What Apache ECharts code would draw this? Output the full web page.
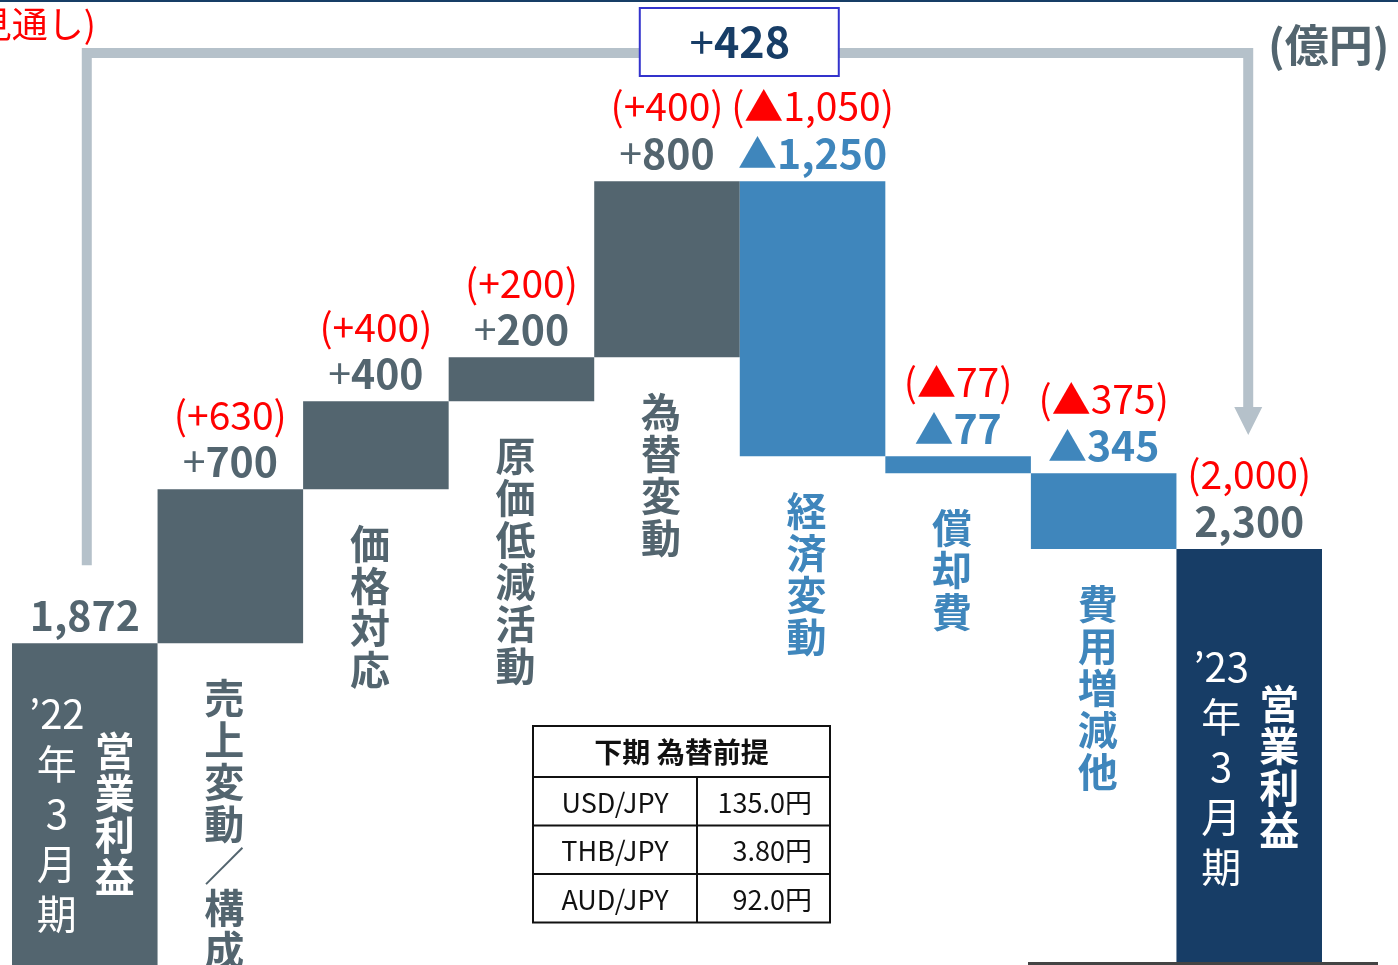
<!DOCTYPE html>
<html>
<head>
<meta charset="utf-8">
<script src="https://cdn.jsdelivr.net/npm/echarts@6/dist/echarts.min.js"></script>
<style>
  html, body { margin: 0; padding: 0; background: #fff; }
  #chart { width: 1398px; height: 965px; }
</style>
</head>
<body>
<div id="chart"></div>
<script>
// 営業利益 増減要因（億円）
var categories = ['’22年3月期', '売上変動／構成差', '価格対応', '原価低減活動', '為替変動', '経済変動', '償却費', '費用増減他', '’23年3月期']
var kinds = ['start', 'up', 'up', 'up', 'up', 'down', 'down', 'down', 'end']
var values = [1872, 700, 400, 200, 800, -1250, -77, -345, 2300]
// 前回見通し（赤字カッコ内）
var forecast = [null, 630, 400, 200, 400, -1050, -77, -375, 2000]
var totalTitle = '営業利益'
var fxHeader = '下期 為替前提'
var fxPairs = ['USD/JPY', 'THB/JPY', 'AUD/JPY']
var fxRates = ['135.0円', '3.80円', '92.0円']

var FONT = '"Noto Sans CJK JP", "Noto Sans", sans-serif'
var GRAY = '#53656f'
var BLUE = '#3f86bc'
var NAVY = '#173d66'
var RED = '#ff0000'
var LINK = '#b5c1ca'
var colorOf = { start: GRAY, up: GRAY, down: BLUE, end: NAVY }

function fmt(n) {
  return Math.abs(n).toLocaleString('en-US')
}

// waterfall: transparent base + visible part
var baseData = []
var barData = []
var running = 0
for (var i = 0; i < values.length; i++) {
  var k = kinds[i]
  var base, h
  if (k === 'start' || k === 'end') {
    base = 0
    h = values[i]
    running = values[i]
  } else if (values[i] >= 0) {
    base = running
    h = values[i]
    running += values[i]
  } else {
    running += values[i]
    base = running
    h = -values[i]
  }
  var col = colorOf[k]
  baseData.push({
    value: base,
    label: {
      show: k === 'up' || k === 'down',
      color: col,
      formatter: categories[i].split('').join('\n')
    }
  })
  // value label
  var txt = ''
  if (forecast[i] !== null) {
    var f = forecast[i]
    var fs = (k === 'end') ? fmt(f) : (f >= 0 ? '+' : '▲') + fmt(f)
    txt += '{r|(' + fs + ')}\n'
  }
  var pre = k === 'up' ? '+' : (k === 'down' ? '▲' : '')
  var tone = k === 'down' ? 'b' : 'g'
  if (pre) txt += '{' + tone + 't|' + pre + '}'
  txt += '{' + tone + '|' + fmt(values[i]) + '}'
  barData.push({
    value: h,
    itemStyle: { color: col },
    label: { formatter: txt }
  })
}

var myChart = echarts.init(document.getElementById('chart'))
var option = {
  animation: false,
  grid: { left: 12, right: 76, top: 65, bottom: 0 },
  xAxis: {
    type: 'category',
    data: categories,
    show: false
  },
  yAxis: {
    type: 'value',
    min: 410,
    max: 4500,
    show: false
  },
  series: [
    {
      name: 'base',
      type: 'bar',
      stack: 'w',
      barCategoryGap: '0%',
      silent: true,
      itemStyle: { color: 'rgba(0,0,0,0)' },
      label: {
        position: 'insideTop',
        distance: 34,
        offset: [-6, 0],
        fontFamily: FONT,
        fontSize: 40,
        fontWeight: 'bold',
        lineHeight: 42
      },
      data: baseData
    },
    {
      name: 'value',
      type: 'bar',
      stack: 'w',
      barCategoryGap: '0%',
      silent: true,
      label: {
        show: true,
        position: 'top',
        distance: 4,
        fontFamily: FONT,
        align: 'center',
        rich: {
          r: { color: RED, fontSize: 39, fontFamily: FONT, lineHeight: 47 },
          g: { color: GRAY, fontSize: 41, fontWeight: 'bold', fontFamily: FONT, lineHeight: 47 },
          gt: { color: GRAY, fontSize: 41, fontWeight: 'normal', fontFamily: FONT, lineHeight: 47 },
          b: { color: BLUE, fontSize: 41, fontWeight: 'bold', fontFamily: FONT, lineHeight: 47 },
          bt: { color: BLUE, fontSize: 39, fontWeight: 'bold', fontFamily: FONT, lineHeight: 47 }
        }
      },
      data: barData
    }
  ]
}
myChart.setOption(option)

// annotations placed through the chart's own scales
function px(i, v) {
  return myChart.convertToPixel({ gridIndex: 0 }, [i, v])
}
var last = values.length - 1
var p0 = px(0, values[0])
var pN = px(last, values[last])
var yTop = 53
var graphics = []

// top rule
graphics.push({ type: 'rect', z: 50, shape: { x: 0, y: 0, width: 1398, height: 2 }, style: { fill: NAVY } })
// bottom rule
graphics.push({ type: 'rect', z: 50, shape: { x: 1028, y: 962, width: 350, height: 3 }, style: { fill: '#444' } })

// connector with arrow
graphics.push({
  type: 'polyline',
  z: 50,
  shape: { points: [[p0[0] + 2, p0[1] - 78], [p0[0] + 2, yTop], [pN[0] - 1, yTop], [pN[0] - 1, pN[1] - 140]] },
  style: { stroke: LINK, lineWidth: 10, fill: null, lineJoin: 'miter' }
})
graphics.push({
  type: 'polygon',
  z: 50,
  shape: { points: [[pN[0] - 15, pN[1] - 142], [pN[0] + 13, pN[1] - 142], [pN[0] - 1, pN[1] - 114]] },
  style: { fill: LINK }
})
// difference box
var pA = px(4, 1000)
var pB = px(5, 1000)
var bx = (pA[0] + pB[0]) / 2
graphics.push({
  type: 'rect',
  z: 51,
  shape: { x: bx - 100, y: 8, width: 199, height: 68 },
  style: { fill: '#fff', stroke: '#3333cc', lineWidth: 2 }
})
graphics.push({
  type: 'text',
  z: 52,
  x: bx,
  y: 42,
  style: {
    text: '{t|+}{v|' + fmt(values[last] - values[0]) + '}',
    textAlign: 'center',
    textVerticalAlign: 'middle',
    rich: {
      t: { fontFamily: FONT, fontSize: 44, fill: NAVY, fontWeight: 'normal' },
      v: { fontFamily: FONT, fontSize: 43, fill: NAVY, fontWeight: 'bold' }
    }
  }
})
// unit
graphics.push({
  type: 'text', z: 50, x: 1268, y: 45,
  style: { text: '(億円)', fontFamily: FONT, fontSize: 44, fontWeight: 'bold', fill: GRAY, textVerticalAlign: 'middle' }
})
// cropped note at top-left
graphics.push({
  type: 'text', z: 50, x: 96, y: 24,
  style: { text: '(前回見通し)', fontFamily: FONT, fontSize: 36, fill: RED, textAlign: 'right', textVerticalAlign: 'middle' }
})

// vertical labels inside the two total bars
;[0, last].forEach(function(i) {
  var p = px(i, values[i])
  var cy = (p[1] + 965) / 2 + 10
  var per = categories[i]
  var perLines = [per.slice(0, 3), per.slice(3, 4), per.slice(4, 5), per.slice(5, 6), per.slice(6)]
  graphics.push({
    type: 'text', z: 60, x: p[0] - 28, y: cy,
    style: {
      text: perLines.join('\n'), fontFamily: FONT, fontSize: 40, lineHeight: 50,
      fill: '#fff', textAlign: 'center', textVerticalAlign: 'middle'
    }
  })
  graphics.push({
    type: 'text', z: 60, x: p[0] + 30, y: cy,
    style: {
      text: totalTitle.split('').join('\n'), fontFamily: FONT, fontSize: 40, lineHeight: 42,
      fontWeight: 'bold', fill: '#fff', textAlign: 'center', textVerticalAlign: 'middle'
    }
  })
})

// fx table
var tx = 533, ty = 726, tw = 297, colX = 697, headH = 51, rowH = 48.5
var th = headH + rowH * fxPairs.length
graphics.push({ type: 'rect', z: 50, shape: { x: tx, y: ty, width: tw, height: th }, style: { fill: '#fff', stroke: '#111', lineWidth: 2 } })
graphics.push({ type: 'line', z: 51, shape: { x1: colX, y1: ty + headH, x2: colX, y2: ty + th }, style: { stroke: '#111', lineWidth: 2 } })
graphics.push({
  type: 'text', z: 52, x: tx + tw / 2, y: ty + headH / 2 + 1,
  style: { text: fxHeader, fontFamily: FONT, fontSize: 28, fontWeight: 'bold', fill: '#111', textAlign: 'center', textVerticalAlign: 'middle' }
})
fxPairs.forEach(function(name, r) {
  var ry = ty + headH + rowH * r
  graphics.push({ type: 'line', z: 51, shape: { x1: tx, y1: ry, x2: tx + tw, y2: ry }, style: { stroke: '#111', lineWidth: 2 } })
  graphics.push({
    type: 'text', z: 52, x: (tx + colX) / 2, y: ry + rowH / 2 + 1,
    style: { text: name, fontFamily: FONT, fontSize: 27, fill: '#111', textAlign: 'center', textVerticalAlign: 'middle' }
  })
  graphics.push({
    type: 'text', z: 52, x: 812, y: ry + rowH / 2 + 1,
    style: { text: fxRates[r], fontFamily: FONT, fontSize: 27, fill: '#111', textAlign: 'right', textVerticalAlign: 'middle' }
  })
})

myChart.setOption({ graphic: graphics })
</script>
</body>
</html>
